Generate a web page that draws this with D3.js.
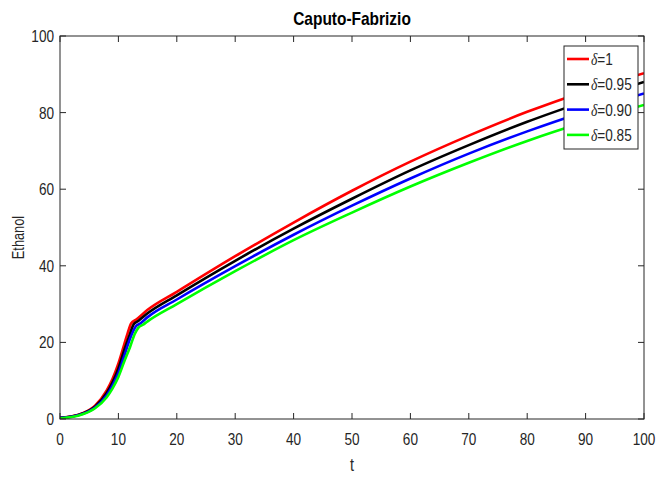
<!DOCTYPE html>
<html>
<head>
<meta charset="utf-8">
<style>
  body { margin: 0; background: #fff; }
  text { font-family: "Liberation Sans", Arial, sans-serif; fill: #262626; }
</style>
</head>
<body>
<svg id="chart" width="657" height="477"></svg>
<script src="https://cdn.jsdelivr.net/npm/d3@7"></script>
<script>
// values
const tRed   = [0, 2, 4, 6, 8, 9, 10, 11, 11.6, 12.2, 13, 15, 20, 30, 40, 50, 60, 70, 80, 90, 100];
const red    = [0.3, 0.7, 1.6, 3.5, 7.5, 10.5, 14.5, 19.5, 22.5, 25.0, 25.9, 28.5, 33.2, 42.5, 51.3, 59.6, 67.2, 74, 80.2, 85.6, 90.3];
const tBlack = [0, 2, 4, 6, 8, 9, 10, 11, 12, 12.6, 13.4, 15, 20, 30, 40, 50, 60, 70, 80, 90, 100];
const black  = [0.3, 0.65, 1.5, 3.2, 6.8, 9.6, 13.2, 18, 22.3, 24.7, 25.6, 27.6, 32.3, 41.3, 49.7, 57.5, 64.9, 71.5, 77.6, 83, 88];
const tBlue  = [0, 2, 4, 6, 8, 9, 10, 11, 12, 13, 13.8, 15, 20, 30, 40, 50, 60, 70, 80, 90, 100];
const blue   = [0.3, 0.6, 1.4, 3.0, 6.2, 8.8, 12, 16.5, 21, 24.2, 25, 26.6, 31.2, 39.9, 48.1, 55.7, 62.8, 69.3, 75.1, 80.3, 85];
const tGreen = [0, 2, 4, 6, 8, 9, 10, 11, 12, 12.8, 13.4, 14.2, 15, 20, 30, 40, 50, 60, 70, 80, 90, 100];
const green  = [0.2, 0.5, 1.3, 2.8, 5.7, 8.0, 11, 15, 18.8, 22.2, 23.8, 24.6, 25.5, 30, 38.6, 46.7, 53.9, 60.7, 66.9, 72.6, 77.6, 82];

const seriesNames = ["1", "0.95", "0.90", "0.85"];
const seriesColors = ["#ff0000", "#000000", "#0000ff", "#00ff00"];
const xTicks = d3.range(0, 101, 10);
const yTicks = d3.range(0, 101, 20);

const series = [
  {name: seriesNames[0], color: seriesColors[0], t: tRed, v: red},
  {name: seriesNames[1], color: seriesColors[1], t: tBlack, v: black},
  {name: seriesNames[2], color: seriesColors[2], t: tBlue, v: blue},
  {name: seriesNames[3], color: seriesColors[3], t: tGreen, v: green}
];

const mLeft = 60, mRight = 644, mTop = 36, mBottom = 419;
const x = d3.scaleLinear().domain([0, 100]).range([mLeft, mRight]);
const y = d3.scaleLinear().domain([0, 100]).range([mBottom, mTop]);

const svg = d3.select("#chart");
const axisColor = "#262626";
const tickLen = 6;
const sx = 0.8; // the reference's text is squeezed horizontally

// curves (drawn first, axes over them)
const line = d3.line()
  .x(d => x(d[0]))
  .y(d => y(d[1]))
  .curve(d3.curveMonotoneX);

svg.append("clipPath").attr("id", "plotclip")
  .append("rect").attr("x", mLeft).attr("y", mTop).attr("width", mRight - mLeft).attr("height", mBottom - mTop);

svg.append("g").attr("clip-path", "url(#plotclip)")
  .selectAll("path")
  .data(series)
  .join("path")
    .attr("fill", "none")
    .attr("stroke", d => d.color)
    .attr("stroke-width", 2.6)
    .attr("stroke-linejoin", "round")
    .attr("d", d => line(d.t.map((t, i) => [t, d.v[i]])));

// axes box with inward ticks (matlab style)
const axG = svg.append("g").attr("stroke", axisColor).attr("stroke-width", 1).attr("fill", "none");
axG.append("rect")
  .attr("x", mLeft).attr("y", mTop).attr("width", mRight - mLeft).attr("height", mBottom - mTop);

axG.selectAll("line.xb").data(xTicks).join("line").attr("class", "xb")
  .attr("x1", d => x(d)).attr("x2", d => x(d))
  .attr("y1", mBottom).attr("y2", mBottom - tickLen);
axG.selectAll("line.xt").data(xTicks).join("line").attr("class", "xt")
  .attr("x1", d => x(d)).attr("x2", d => x(d))
  .attr("y1", mTop).attr("y2", mTop + tickLen);
axG.selectAll("line.yl").data(yTicks).join("line").attr("class", "yl")
  .attr("y1", d => y(d)).attr("y2", d => y(d))
  .attr("x1", mLeft).attr("x2", mLeft + tickLen);
axG.selectAll("line.yr").data(yTicks).join("line").attr("class", "yr")
  .attr("y1", d => y(d)).attr("y2", d => y(d))
  .attr("x1", mRight).attr("x2", mRight - tickLen);

// tick labels
svg.append("g").style("font-size", "17px").attr("text-anchor", "middle")
  .selectAll("text").data(xTicks).join("text")
    .attr("transform", d => `translate(${x(d)},445) scale(${sx},1)`)
    .text(d => d);

svg.append("g").style("font-size", "17px").attr("text-anchor", "end")
  .selectAll("text").data(yTicks).join("text")
    .attr("transform", d => `translate(${mLeft - 6},${y(d) + 6}) scale(${sx},1)`)
    .text(d => d);

// titles
svg.append("text")
  .attr("transform", `translate(${(mLeft + mRight) / 2},25) scale(0.86,1)`)
  .attr("text-anchor", "middle")
  .style("font-size", "18px").style("font-weight", "bold")
  .style("fill", "#000")
  .text("Caputo-Fabrizio");

svg.append("text")
  .attr("transform", `translate(${(mLeft + mRight) / 2},471) scale(${sx},1)`)
  .attr("text-anchor", "middle")
  .style("font-size", "18px")
  .text("t");

svg.append("text")
  .attr("transform", `translate(24, ${(mTop + mBottom) / 2 + 10}) rotate(-90) scale(${sx},1)`)
  .attr("text-anchor", "middle")
  .style("font-size", "16px")
  .text("Ethanol");

// legend
const lg = svg.append("g");
lg.append("rect")
  .attr("x", 564).attr("y", 46).attr("width", 74).attr("height", 103)
  .attr("fill", "#fff").attr("stroke", axisColor).attr("stroke-width", 1);

const item = lg.selectAll("g.item").data(series).join("g").attr("class", "item")
  .attr("transform", (d, i) => `translate(0, ${59 + i * 25.3})`);
item.append("line")
  .attr("x1", 567).attr("x2", 589).attr("y1", 0).attr("y2", 0)
  .attr("stroke", d => d.color).attr("stroke-width", 2.6);
const lt = item.append("text")
  .attr("transform", `translate(591,6) scale(${sx},1)`)
  .style("font-size", "17px");
lt.append("tspan")
  .style("font-family", "'Liberation Serif', 'Times New Roman', serif")
  .style("font-style", "italic")
  .text("δ");
lt.append("tspan").text(d => "=" + d.name);
</script>
</body>
</html>
